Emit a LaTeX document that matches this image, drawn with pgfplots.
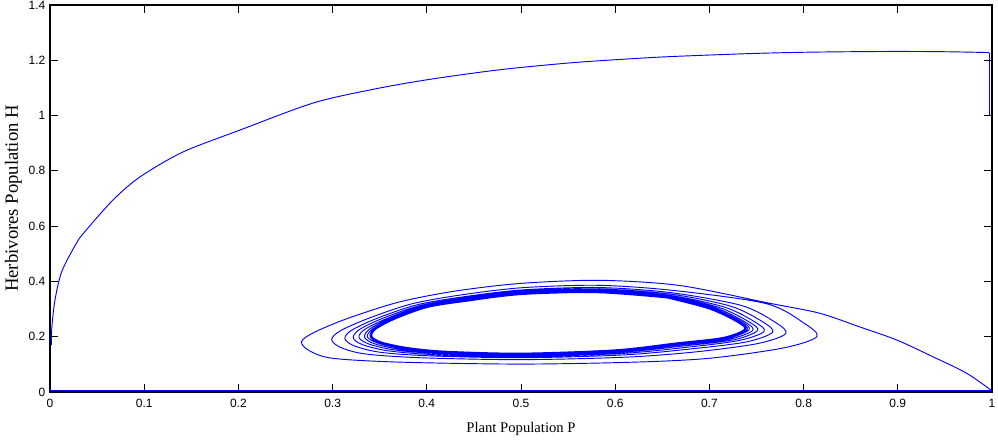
\documentclass[border=0pt]{standalone}
\usepackage{pgfplots}
\pgfplotsset{compat=1.18}
\usepackage{fontspec}
\setmainfont{Liberation Serif}
\newfontfamily\arialfont{Liberation Sans}
\begin{document}
\begin{tikzpicture}
\useasboundingbox (-37.5pt,-39pt) rectangle (711pt,294pt);
\begin{axis}[
  at={(0,0)}, anchor=south west,
  scale only axis, width=706.5pt, height=290.25pt,
  xmin=0, xmax=1, ymin=0, ymax=1.4,
  clip=false,
  xtick={0,0.1,0.2,0.3,0.4,0.5,0.6,0.7,0.8,0.9,1},
  ytick={0,0.2,0.4,0.6,0.8,1,1.2,1.4},
  tick align=inside, tick pos=both,
  xticklabel pos=lower, yticklabel pos=left,
  major tick length=6pt,
  every tick/.style={black, line width=0.6pt},
  axis line style={black, line width=0.9pt},
  /pgf/number format/assume math mode=true,
  ticklabel style={font=\arialfont\fontsize{9}{10}\selectfont, black},
  xticklabel style={yshift=-2pt},
  xlabel={Plant Population P},
  xlabel style={font=\fontsize{11}{12}\selectfont, at={(axis description cs:0.5,-0.105)}, anchor=base},
  ylabel={Herbivores Population H},
  ylabel style={font=\fontsize{14}{15}\selectfont, at={(axis description cs:-0.0389,0.5)}, anchor=center},
]
% trajectory along H = 0
\addplot[blue, line width=1.1pt] coordinates {(0,0.005) (1,0.005)};
% upper trajectory
\addplot[blue, line width=0.7pt, smooth, tension=0.5] coordinates {
(0.0015,0.17) (0.002,0.236) (0.0053,0.333) (0.0124,0.435) (0.028,0.538) (0.037,0.58)
(0.067,0.695) (0.0955,0.778) (0.141,0.868) (0.202,0.948) (0.279,1.045) (0.343,1.095)
(0.403,1.131) (0.478,1.166) (0.55,1.190) (0.60,1.202) (0.65,1.212) (0.70,1.219)
(0.75,1.225) (0.80,1.229) (0.85,1.231) (0.90,1.232) (0.95,1.231) (0.997,1.228)};
\addplot[blue, line width=0.7pt] coordinates {(0.997,1.228) (0.997,1.000)};
% spiral towards the limit cycle
\addplot[blue, line width=0.7pt, smooth, tension=0.5] coordinates {
(1.000,0.004) (0.973,0.068) (0.937,0.128) (0.899,0.188) (0.860,0.235) (0.817,0.285) (0.764,0.321)
(0.669,0.385) (0.584,0.404) (0.500,0.393) (0.430,0.365) (0.370,0.325) (0.315,0.265) (0.280,0.215)
(0.267,0.182) (0.275,0.150) (0.300,0.122) (0.372,0.108) (0.500,0.101) (0.620,0.108) (0.700,0.122)
(0.778,0.159) (0.814,0.200) (0.800,0.250) (0.760,0.320)
(0.663,0.367) (0.582,0.386) (0.500,0.377) (0.434,0.350) (0.383,0.318) (0.337,0.265) (0.308,0.221)
(0.299,0.190) (0.308,0.162) (0.334,0.138) (0.393,0.124) (0.500,0.117) (0.611,0.126) (0.685,0.145)
(0.751,0.175) (0.781,0.211) (0.770,0.252) (0.734,0.313)
(0.660,0.359) (0.582,0.378) (0.500,0.369) (0.436,0.343) (0.389,0.315) (0.346,0.265) (0.320,0.223)
(0.313,0.193) (0.323,0.167) (0.350,0.144) (0.402,0.131) (0.500,0.124) (0.608,0.134) (0.678,0.155)
(0.739,0.181) (0.767,0.216) (0.757,0.253) (0.723,0.310)
(0.659,0.354) (0.581,0.373) (0.500,0.365) (0.437,0.339) (0.392,0.312) (0.352,0.265) (0.328,0.225)
(0.322,0.195) (0.332,0.171) (0.359,0.149) (0.408,0.135) (0.500,0.128) (0.605,0.139) (0.674,0.161)
(0.731,0.186) (0.758,0.219) (0.748,0.254) (0.716,0.307)
(0.657,0.350) (0.581,0.369) (0.500,0.362) (0.438,0.336) (0.395,0.311) (0.357,0.265) (0.334,0.226)
(0.328,0.197) (0.339,0.173) (0.366,0.152) (0.412,0.139) (0.500,0.132) (0.603,0.143) (0.671,0.166)
(0.726,0.189) (0.751,0.222) (0.742,0.254) (0.710,0.306)
(0.656,0.347) (0.580,0.366) (0.500,0.359) (0.439,0.334) (0.397,0.310) (0.360,0.265) (0.339,0.227)
(0.334,0.198) (0.344,0.175) (0.372,0.154) (0.415,0.141) (0.500,0.134) (0.602,0.146) (0.669,0.170)
(0.721,0.191) (0.746,0.223) (0.737,0.255) (0.706,0.305)
(0.656,0.345) (0.580,0.364) (0.500,0.357) (0.440,0.332) (0.399,0.309) (0.363,0.265) (0.342,0.227)
(0.337,0.199) (0.348,0.177) (0.376,0.156) (0.418,0.143) (0.500,0.136) (0.601,0.148) (0.667,0.172)
(0.718,0.193) (0.742,0.225) (0.734,0.255) (0.703,0.304)
(0.655,0.344) (0.580,0.363) (0.500,0.356) (0.440,0.331) (0.399,0.308) (0.364,0.265) (0.344,0.228)
(0.340,0.200) (0.350,0.177) (0.378,0.157) (0.419,0.144) (0.500,0.137) (0.600,0.149) (0.666,0.174)
(0.716,0.194) (0.740,0.225) (0.731,0.255) (0.701,0.303)
(0.655,0.343)};
% limit cycle (many overlapping turns)
\addplot[blue, line width=1.8pt, smooth, tension=0.5] coordinates {
(0.655,0.343) (0.580,0.362) (0.500,0.355) (0.440,0.330) (0.400,0.308) (0.365,0.265) (0.345,0.228)
(0.341,0.200) (0.352,0.178) (0.380,0.158) (0.420,0.145) (0.500,0.138) (0.600,0.150) (0.665,0.175)
(0.715,0.195) (0.738,0.226) (0.730,0.255) (0.700,0.303) (0.655,0.343)};
\end{axis}
\end{tikzpicture}
\end{document}
